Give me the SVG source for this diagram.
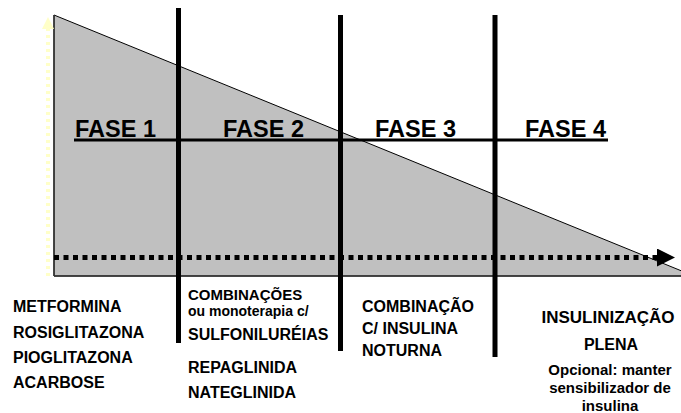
<svg xmlns="http://www.w3.org/2000/svg" width="681" height="413" viewBox="0 0 681 413">
<style>
text{font-family:"Liberation Sans",Arial,sans-serif;font-weight:bold;fill:#000}
.fase{font-size:23.5px}
.l{font-size:16px}
.m{font-size:15px}
.s{font-size:14px}
.s4{font-size:15px}
.c{text-anchor:middle}
.bar{stroke:#000;stroke-width:5;fill:none}
</style>
<defs>
<marker id="ah" markerWidth="18" markerHeight="18" refX="0" refY="9" orient="auto" markerUnits="userSpaceOnUse">
<path d="M0,0 L18,9 L0,18 Z" fill="#000"/>
</marker>
</defs>
<rect width="681" height="413" fill="#fff"/>
<g id="area">
<polygon points="54,15 694,276 54,276" fill="#C0C0C0" stroke="#000" stroke-width="1"/>
<line x1="54" y1="15" x2="54" y2="276" stroke="#333" stroke-width="1.5"/>
<line x1="54" y1="276" x2="681" y2="276" stroke="#333" stroke-width="1.5"/>
</g>
<g id="connectors">
<line x1="48" y1="276" x2="48" y2="29" stroke="#FFFFC8" stroke-width="4" stroke-dasharray="3 4"/>
<path d="M42,29 L48,17 L54,29 Z" fill="#FFFFC8"/>
<line x1="54" y1="257.5" x2="657" y2="257.5" stroke="#000" stroke-width="5" stroke-dasharray="5 4.5" marker-end="url(#ah)"/>
</g>
<g id="dividers">
<line class="bar" x1="178.5" y1="8" x2="178.5" y2="343"/>
<line class="bar" x1="340.5" y1="15" x2="340.5" y2="351"/>
<line class="bar" x1="495" y1="15" x2="495" y2="357"/>
<line x1="74" y1="140" x2="608" y2="140" stroke="#000" stroke-width="3"/>
</g>
<g id="fase1"><text class="fase" x="75" y="137">FASE 1</text></g>
<g id="fase2"><text class="fase" x="223" y="137">FASE 2</text></g>
<g id="fase3"><text class="fase" x="375" y="137">FASE 3</text></g>
<g id="fase4"><text class="fase" x="525" y="137">FASE 4</text></g>
<g id="col1">
<text class="l" x="13" y="312">METFORMINA</text>
<text class="l" x="13" y="337.5">ROSIGLITAZONA</text>
<text class="l" x="13" y="363">PIOGLITAZONA</text>
<text class="l" x="13" y="388">ACARBOSE</text>
</g>
<g id="col2">
<text class="m" x="188" y="300">COMBINAÇÕES</text>
<text class="s" x="188" y="315.5">ou monoterapia c/</text>
<text class="l" x="188" y="340">SULFONILURÉIAS</text>
<text class="l" x="188" y="373">REPAGLINIDA</text>
<text class="l" x="188" y="398">NATEGLINIDA</text>
</g>
<g id="col3">
<text class="l" x="362" y="312">COMBINAÇÃO</text>
<text class="l" x="362" y="334">C/ INSULINA</text>
<text class="l" x="362" y="356">NOTURNA</text>
</g>
<g id="col4">
<text class="c" x="608" y="323" style="font-size:17px">INSULINIZAÇÃO</text>
<text class="l c" x="611" y="350">PLENA</text>
<text class="s4 c" x="610" y="375">Opcional: manter</text>
<text class="s4 c" x="610" y="393">sensibilizador de</text>
<text class="s4 c" x="610" y="411">insulina</text>
</g>
</svg>
